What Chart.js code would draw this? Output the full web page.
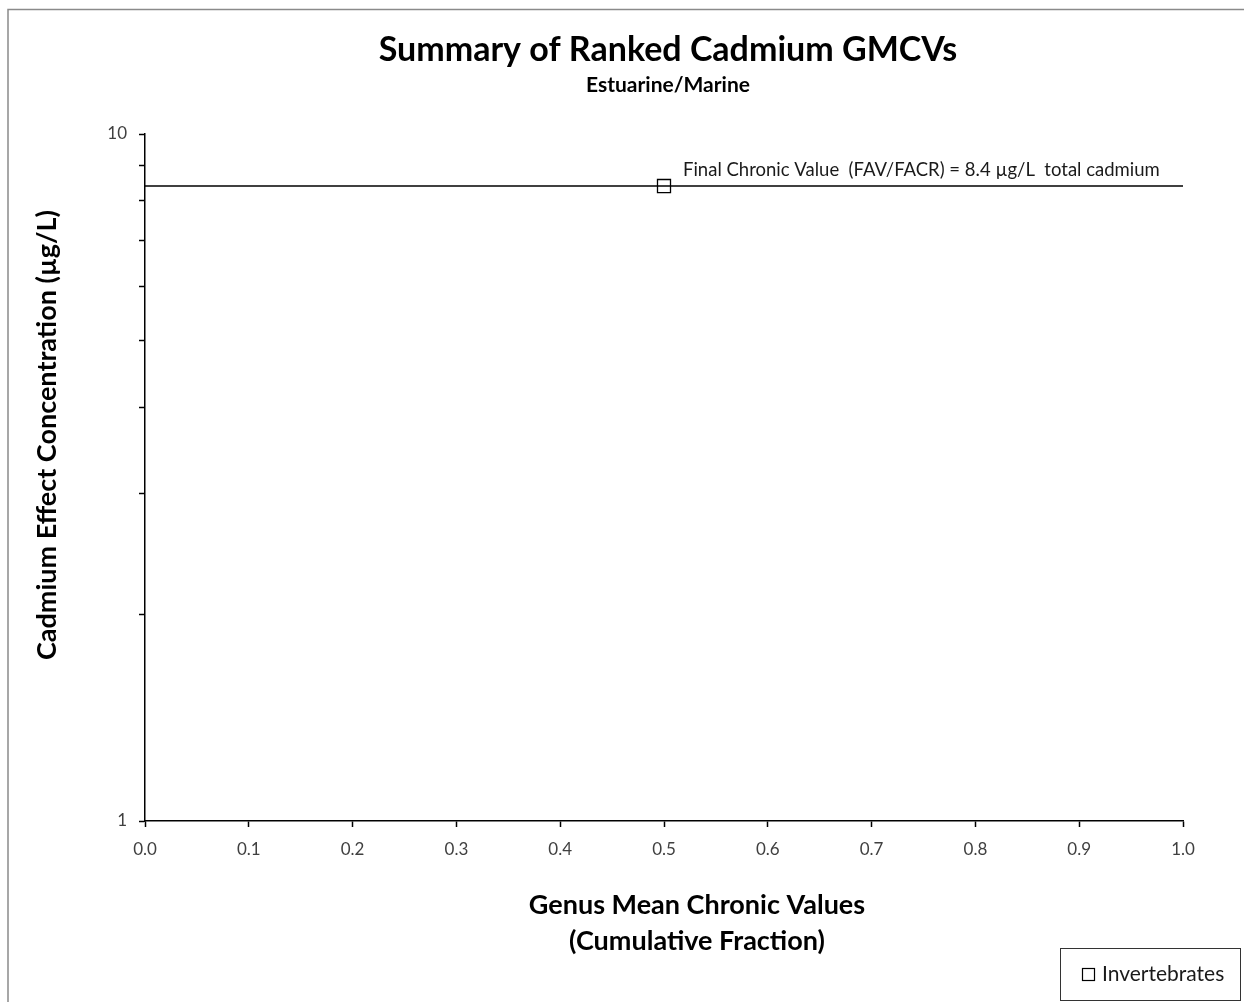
<!DOCTYPE html>
<html>
<head>
<meta charset="utf-8">
<script src="https://cdn.jsdelivr.net/npm/chart.js@4/dist/chart.umd.min.js"></script>
<style>
  html, body { margin: 0; padding: 0; background: #fff; }
  #wrap { width: 1244px; height: 1002px; }
</style>
</head>
<body>
<div id="wrap"><canvas id="myChart" width="1244" height="1002"></canvas></div>
<script>
// data
const xTicks = [0, 0.1, 0.2, 0.3, 0.4, 0.5, 0.6, 0.7, 0.8, 0.9, 1.0];
const yTicks = [1, 2, 3, 4, 5, 6, 7, 8, 9, 10];
const yLabelled = [1, 10];
const fcvValue = 8.4;
const fcvLineX = [0, 1];
const fcvMarkerX = [0.5];
const invertebratesX = [];
const invertebratesY = [];

const FONT = 'Lato, "Open Sans", sans-serif';

const frameAndText = {
  id: 'frameAndText',
  afterDraw(chart) {
    const ctx = chart.ctx;
    ctx.save();

    // outer frame (cut off at the right and bottom of the picture)
    ctx.strokeStyle = '#8a8a8a';
    ctx.lineWidth = 1.5;
    ctx.beginPath();
    ctx.moveTo(8, 1010);
    ctx.lineTo(8, 9.5);
    ctx.lineTo(1250, 9.5);
    ctx.stroke();

    // titles
    ctx.fillStyle = '#000';
    ctx.textAlign = 'center';
    ctx.textBaseline = 'middle';
    ctx.font = 'bold 34px ' + FONT;
    ctx.fillText('Summary of Ranked Cadmium GMCVs', 668, 50);
    ctx.font = 'bold 21px ' + FONT;
    ctx.fillText('Estuarine/Marine', 668, 85);

    // axis titles
    ctx.font = 'bold 27px ' + FONT;
    ctx.fillText('Genus Mean Chronic Values', 697, 905);
    ctx.fillText('(Cumulative Fraction)', 697, 941);
    ctx.save();
    ctx.translate(47, 435);
    ctx.rotate(-Math.PI / 2);
    ctx.fillText('Cadmium Effect Concentration (\u00b5g/L)', 0, 0);
    ctx.restore();

    // FCV annotation next to the marker
    const xs = chart.scales.x, ys = chart.scales.y;
    ctx.font = '18.5px ' + FONT;
    ctx.textAlign = 'left';
    ctx.fillStyle = '#1a1a1a';
    ctx.fillText('Final Chronic Value  (FAV/FACR) = 8.4 \u00b5g/L  total cadmium',
      xs.getPixelForValue(fcvMarkerX[0]) + 19, ys.getPixelForValue(fcvValue) - 16);

    // legend box
    ctx.strokeStyle = '#333';
    ctx.lineWidth = 1;
    ctx.strokeRect(1060.5, 948.5, 180, 52);
    ctx.strokeStyle = '#000';
    ctx.lineWidth = 1.2;
    ctx.strokeRect(1082.5, 968.5, 12, 12);
    ctx.fillStyle = '#1a1a1a';
    ctx.font = '21px ' + FONT;
    ctx.textBaseline = 'middle';
    ctx.fillText('Invertebrates', 1102, 974);
    ctx.restore();
  }
};

const ctx = document.getElementById('myChart').getContext('2d');
const myChart = new Chart(ctx, {
  type: 'scatter',
  data: {
    datasets: [
      {
        label: 'Final Chronic Value',
        data: fcvLineX.map(x => ({x: x, y: fcvValue})),
        showLine: true,
        borderColor: '#000',
        borderWidth: 1.5,
        pointRadius: 0
      },
      {
        label: 'FCV marker',
        data: fcvMarkerX.map(x => ({x: x, y: fcvValue})),
        pointStyle: 'rect',
        pointRadius: 9.2,
        backgroundColor: '#fff',
        borderColor: '#000',
        borderWidth: 1.3
      },
      {
        label: 'Invertebrates',
        data: invertebratesX.map((x, i) => ({x: x, y: invertebratesY[i]})),
        pointStyle: 'rect',
        pointRadius: 6,
        backgroundColor: '#fff',
        borderColor: '#000'
      }
    ]
  },
  options: {
    responsive: false,
    animation: false,
    layout: {padding: {left: 10, top: 134, right: 61, bottom: 0}},
    plugins: {
      legend: {display: false},
      title: {display: false},
      tooltip: {enabled: false}
    },
    scales: {
      x: {
        type: 'linear',
        min: 0,
        max: 1,
        afterBuildTicks: (scale) => { scale.ticks = xTicks.map(v => ({value: v})); },
        afterFit: (scale) => { scale.height = 181; },
        ticks: {
          callback: (v) => Number(v).toFixed(1),
          color: '#404040',
          font: {family: FONT, size: 17},
          padding: 12,
          maxRotation: 0
        },
        grid: {
          drawOnChartArea: false,
          color: '#000',
          tickLength: 6,
          tickWidth: 1.5
        },
        border: {color: '#000', width: 1.5}
      },
      y: {
        type: 'logarithmic',
        min: 1,
        max: 10,
        afterBuildTicks: (scale) => { scale.ticks = yTicks.map(v => ({value: v, major: yLabelled.includes(v)})); },
        afterFit: (scale) => { scale.width = 135; },
        ticks: {
          autoSkip: false,
          callback: (v) => yLabelled.includes(v) ? String(v) : '',
          color: '#404040',
          font: {family: FONT, size: 17},
          padding: 12
        },
        grid: {
          drawOnChartArea: false,
          color: '#000',
          tickLength: 6,
          tickWidth: 1.5
        },
        border: {color: '#000', width: 1.5}
      }
    }
  },
  plugins: [frameAndText]
});
</script>
</body>
</html>
